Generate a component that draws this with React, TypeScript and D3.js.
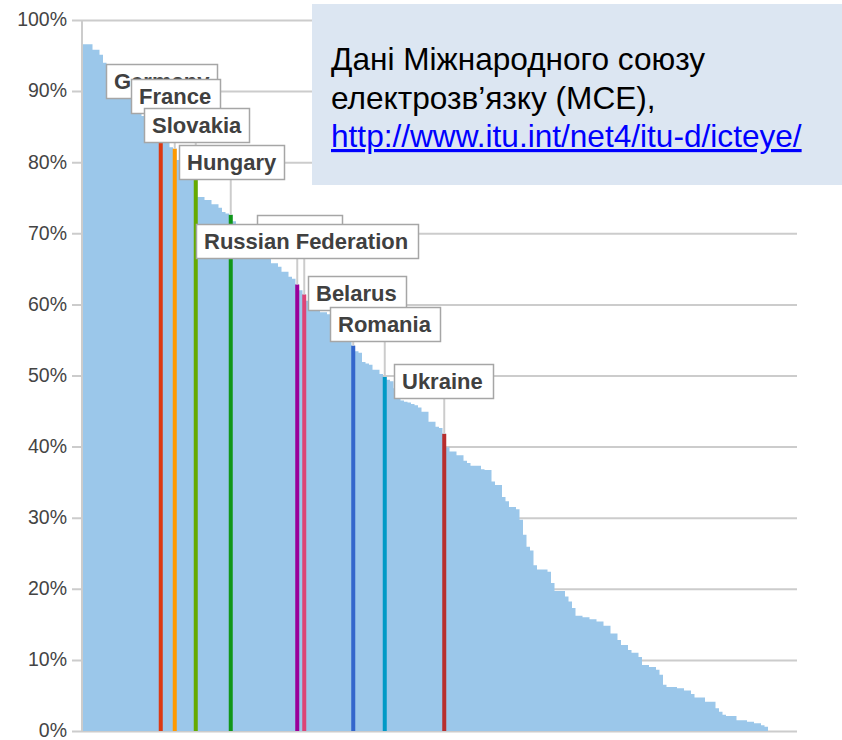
import React, { useEffect, useRef } from "react";
import * as d3 from "d3";

// share of internet users by country, sorted descending
const values = [
  96.6, 96.6, 96.6, 95.8, 95.8, 95.1, 94.0, 93.3, 92.7, 92.0,
  91.4, 90.6, 90.0, 89.4, 88.6, 87.9, 87.2, 86.5, 85.8, 85.2,
  84.8, 84.3, 84.0, 83.6, 82.9, 82.1, 81.9, 80.3, 79.6, 79.0,
  78.6, 78.2, 77.9, 75.1, 75.1, 74.7, 74.7, 74.1, 74.1, 73.6,
  73.0, 72.8, 72.6, 71.7, 71.0, 70.6, 70.2, 69.8, 69.4, 69.0,
  68.4, 67.9, 67.3, 66.6, 65.8, 65.8, 65.3, 64.6, 64.6, 63.9,
  63.6, 62.8, 62.0, 61.4, 60.5, 60.0, 59.5, 59.2, 58.9, 58.9,
  58.6, 58.2, 57.7, 57.1, 56.5, 55.8, 55.0, 54.2, 53.4, 53.2,
  51.9, 51.7, 51.5, 50.8, 50.8, 50.2, 49.8, 49.4, 49.2, 48.2,
  47.2, 46.5, 46.3, 46.2, 46.0, 45.8, 45.5, 44.9, 44.9, 43.5,
  43.5, 42.8, 42.6, 41.8, 39.9, 39.3, 39.3, 38.8, 38.8, 38.0,
  37.7, 37.3, 37.3, 37.3, 36.8, 36.7, 36.7, 35.1, 34.6, 34.6,
  32.9, 32.3, 31.5, 31.5, 31.2, 29.7, 27.6, 25.9, 25.4, 23.3,
  22.7, 22.7, 22.7, 22.4, 20.8, 19.7, 19.7, 19.7, 18.9, 18.2,
  17.3, 16.2, 16.2, 16.0, 16.0, 15.7, 15.7, 15.4, 15.4, 14.8,
  14.8, 13.7, 13.7, 12.8, 12.1, 12.1, 11.4, 11.0, 11.0, 10.4,
  9.3, 9.3, 9.0, 9.0, 8.6, 7.9, 6.5, 6.2, 6.2, 6.2,
  6.0, 6.0, 5.7, 5.7, 5.2, 4.7, 4.7, 4.7, 4.1, 4.1,
  4.1, 3.2, 2.7, 2.3, 2.1, 2.1, 2.1, 1.5, 1.5, 1.5,
  1.3, 1.3, 1.1, 1.1, 0.8, 0.6,
];

const countries = ["Germany", "France", "Slovakia", "Hungary", "Poland", "Russian Federation", "Belarus", "Romania", "Ukraine"];
const countryRank = [22, 26, 32, 42, 61, 63, 77, 86, 103];
const countryValues = [84.0, 81.9, 77.9, 72.6, 62.8, 61.4, 54.2, 49.8, 41.8];
const countryColors = ["#dc3912", "#ff9900", "#66aa00", "#109618", "#990099", "#dd4477", "#3366cc", "#0099c6", "#b82e2e"];

const yTicks = [0, 10, 20, 30, 40, 50, 60, 70, 80, 90, 100];

const noteLines = ["Дані Міжнародного союзу", "електрозв’язку (МСЕ),"];
const noteLink = "http://www.itu.int/net4/itu-d/icteye/";

// label box layout (left, top, width), drawn in order so later ones sit on top
const labelBoxes = [
  { x: 106, y: 64, w: 112 },
  { x: 131, y: 79, w: 90 },
  { x: 144, y: 108, w: 106 },
  { x: 179, y: 145, w: 106 },
  { x: 257, y: 215, w: 86 },
  { x: 196, y: 224, w: 223 },
  { x: 308, y: 276, w: 99 },
  { x: 330, y: 307, w: 111 },
  { x: 394, y: 364, w: 100 },
];

function Chart() {
  const ref = useRef<SVGSVGElement>(null);

  useEffect(() => {
    const width = 842;
    const height = 740;
    const left = 82, right = 768, gridEnd = 797;
    const top = 20, bottom = 731;

    const svg = d3.select(ref.current).attr("width", width).attr("height", height);
    svg.selectAll("*").remove();

    const x = d3.scaleBand<number>().domain(d3.range(values.length)).range([left, right]).padding(0);
    const y = d3.scaleLinear().domain([0, 100]).range([bottom, top]);

    // gridlines + tick labels
    const yAxis = d3.axisLeft(y)
      .tickValues(yTicks)
      .tickSizeInner(-(gridEnd - 72))
      .tickSizeOuter(0)
      .tickPadding(5)
      .tickFormat(d => d + "%");

    const ax = svg.append("g").attr("transform", "translate(72,0)").call(yAxis);
    ax.select(".domain").remove();
    ax.selectAll(".tick line").attr("stroke", "#cccccc").attr("stroke-width", 2);
    ax.selectAll(".tick text")
      .attr("fill", "#444")
      .attr("dy", "0.3em")
      .style("font-family", "Liberation Sans, Arial, sans-serif")
      .style("font-size", "19.5px");

    // area of all countries as steps
    const pts: [number, number][] = values.map((v, i) => [x(i)!, v]);
    pts.push([right, values[values.length - 1]]);
    const area = d3.area<[number, number]>()
      .x(d => d[0])
      .y0(y(0))
      .y1(d => y(d[1]))
      .curve(d3.curveStepAfter);
    svg.append("path").attr("d", area(pts)!).attr("fill", "#9bc7ea");

    // vertical axis line
    svg.append("line")
      .attr("x1", left).attr("x2", left)
      .attr("y1", top).attr("y2", bottom)
      .attr("stroke", "#cccccc").attr("stroke-width", 2);

    // highlighted countries
    svg.selectAll(".hl")
      .data(countries)
      .join("rect")
      .attr("class", "hl")
      .attr("x", (d, i) => x(countryRank[i])! - 0.25)
      .attr("width", x.bandwidth() + 0.5)
      .attr("y", (d, i) => y(countryValues[i]))
      .attr("height", (d, i) => y(0) - y(countryValues[i]))
      .attr("fill", (d, i) => countryColors[i]);

    // leader lines
    svg.selectAll(".leader")
      .data(countries)
      .join("line")
      .attr("class", "leader")
      .attr("x1", (d, i) => x(countryRank[i])! + x.bandwidth() / 2)
      .attr("x2", (d, i) => x(countryRank[i])! + x.bandwidth() / 2)
      .attr("y1", (d, i) => labelBoxes[i].y + 35)
      .attr("y2", (d, i) => y(countryValues[i]))
      .attr("stroke", "#cccccc")
      .attr("stroke-width", 2);

    // label boxes
    const lab = svg.selectAll(".lab")
      .data(countries)
      .join("g")
      .attr("class", "lab")
      .attr("transform", (d, i) => `translate(${labelBoxes[i].x},${labelBoxes[i].y})`);
    lab.append("rect")
      .attr("x", 0.5).attr("y", 0.5)
      .attr("width", (d, i) => labelBoxes[i].w - 1)
      .attr("height", 34)
      .attr("fill", "#fff")
      .attr("stroke", "#a6a6a6")
      .attr("stroke-width", 1.5);
    lab.append("text")
      .attr("x", 8)
      .attr("y", 25)
      .attr("fill", "#404040")
      .style("font-family", "Liberation Sans, Arial, sans-serif")
      .style("font-size", "22px")
      .style("font-weight", "bold")
      .text(d => d);

    // source note
    svg.append("rect")
      .attr("x", 312).attr("y", 4)
      .attr("width", width - 312).attr("height", 181)
      .attr("fill", "#dce6f2");
    const note = svg.append("g")
      .style("font-family", "Liberation Sans, Arial, sans-serif")
      .style("font-size", "31.6px");
    note.selectAll(".nl")
      .data(noteLines)
      .join("text")
      .attr("class", "nl")
      .attr("x", 331)
      .attr("y", (d, i) => 70 + i * 38.5)
      .attr("fill", "#000")
      .text(d => d);
    note.append("text")
      .attr("x", 331)
      .attr("y", 147)
      .attr("fill", "#0000ff")
      .style("text-decoration", "underline")
      .text(noteLink);
  }, []);

  return <svg ref={ref} style={{ position: "absolute", left: 0, top: 0 }}></svg>;
}

export default function App() {
  return <Chart />;
}
